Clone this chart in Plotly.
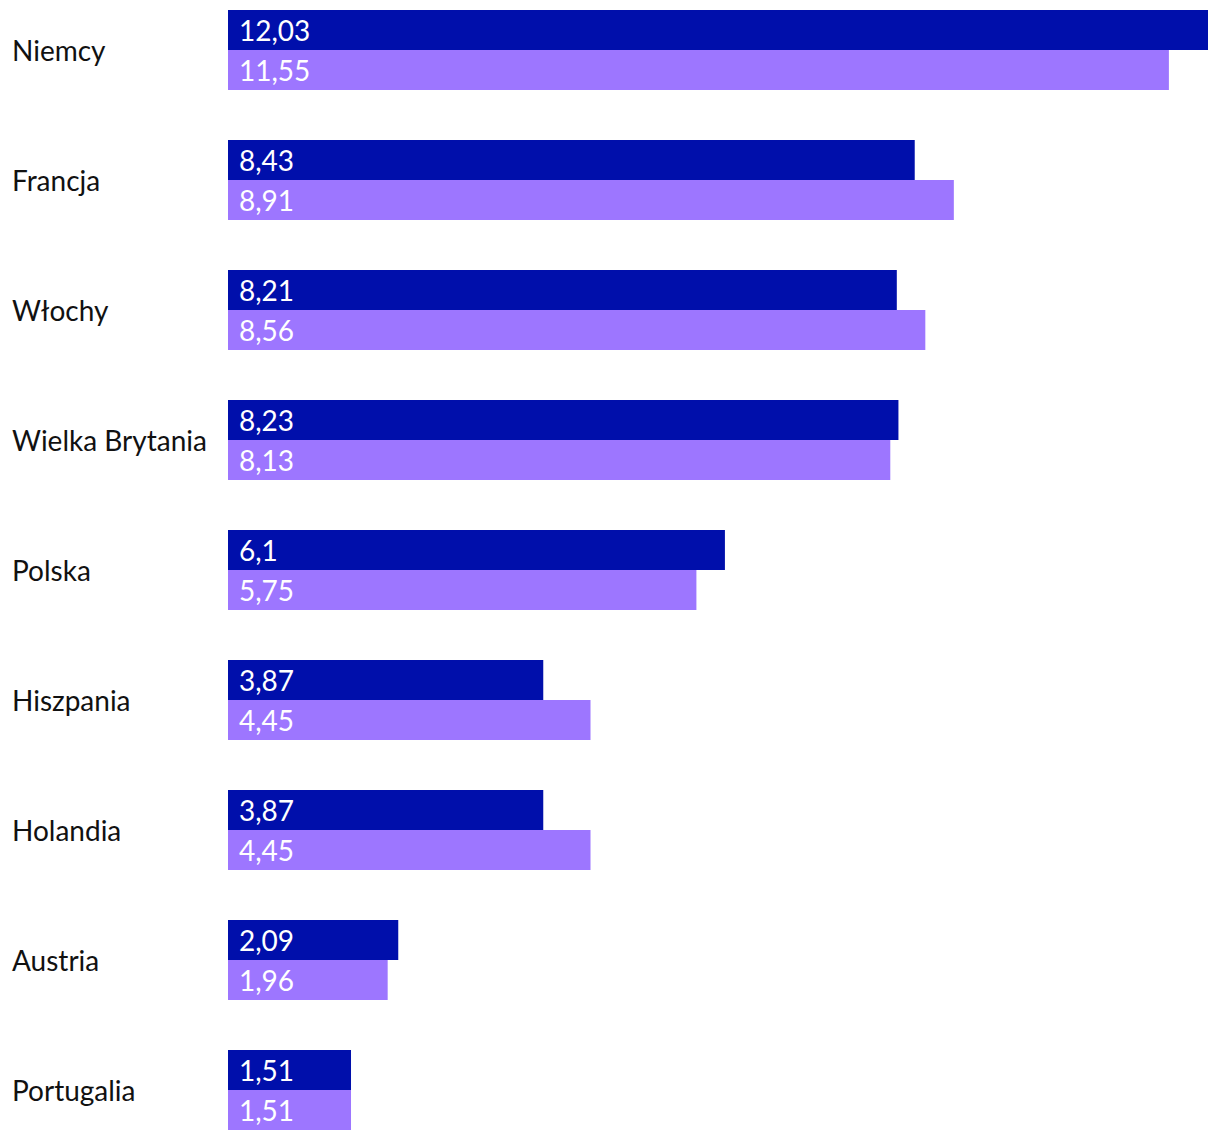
import plotly.graph_objects as go

categories = ["Niemcy", "Francja", "Włochy", "Wielka Brytania", "Polska",
              "Hiszpania", "Holandia", "Austria", "Portugalia"]
series_a = [12.03, 8.43, 8.21, 8.23, 6.1, 3.87, 3.87, 2.09, 1.51]
series_b = [11.55, 8.91, 8.56, 8.13, 5.75, 4.45, 4.45, 1.96, 1.51]

DARK = "#000FAB"
LIGHT = "#9D76FF"
FONT = "Lato, 'Open Sans', sans-serif"

fig = go.Figure()
fig.add_trace(go.Bar(y=categories, x=series_a, orientation="h",
                     marker=dict(color=DARK, line=dict(width=0)), hoverinfo="skip"))
fig.add_trace(go.Bar(y=categories, x=series_b, orientation="h",
                     marker=dict(color=LIGHT, line=dict(width=0)), hoverinfo="skip"))

def fmt(v):
    return str(v).replace(".", ",")

annotations = []
for c in categories:
    annotations.append(dict(x=-0.2224, xref="paper", y=c, yref="y", text=c,
                            xanchor="left", yanchor="middle", showarrow=False,
                            font=dict(family=FONT, size=28, color="#111111")))
for c, va, vb in zip(categories, series_a, series_b):
    annotations.append(dict(x=0, xref="x", y=c, yref="y", text=fmt(va),
                            xanchor="left", yanchor="middle", xshift=9, yshift=20,
                            showarrow=False, font=dict(family=FONT, size=28, color="white")))
    annotations.append(dict(x=0, xref="x", y=c, yref="y", text=fmt(vb),
                            xanchor="left", yanchor="middle", xshift=9, yshift=-20,
                            showarrow=False, font=dict(family=FONT, size=28, color="white")))

fig.update_layout(
    width=1220, height=1140,
    margin=dict(l=228, r=12, t=0, b=0),
    barmode="group", bargap=50/130, bargroupgap=0,
    showlegend=False,
    plot_bgcolor="white", paper_bgcolor="white",
    xaxis=dict(range=[0, 12.03], visible=False, fixedrange=True),
    yaxis=dict(range=[8 + 50/130, -50/130], showticklabels=False, showgrid=False,
               zeroline=False, showline=False, ticks="", fixedrange=True),
    annotations=annotations,
)

fig.write_html("out.html", config={"displayModeBar": False})
